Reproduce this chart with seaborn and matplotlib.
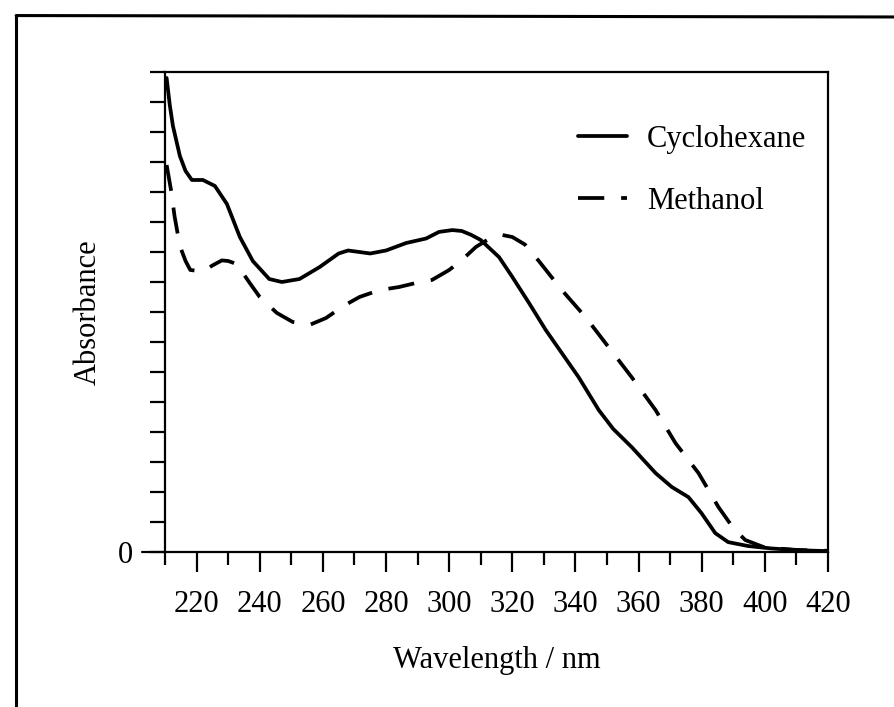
import matplotlib
matplotlib.use("Agg")
import matplotlib.pyplot as plt
from matplotlib.lines import Line2D
import seaborn as sns
import pandas as pd

# Absorption spectra in two solvents (wavelength in nm, absorbance in arbitrary units)
cyclohexane_wl = [210.5, 211.5, 212.5, 214.7, 216.5, 218.5, 222, 225.8, 229.6, 233.7,
                  237.8, 243, 247, 252.6, 259, 265, 268, 275, 280, 286.4,
                  292.7, 296.8, 301, 304, 307, 310, 315.8, 320, 325.3, 330.6,
                  335.7, 341, 347.4, 352, 357.8, 365.4, 370.5, 375.8, 379.9, 384.3,
                  388.4, 394.7, 402, 410.5, 420]
cyclohexane_abs = [15.8, 14.9, 14.2, 13.2, 12.7, 12.4, 12.4, 12.2, 11.6, 10.5,
                   9.7, 9.1, 9.0, 9.1, 9.5, 9.95, 10.05, 9.95, 10.05, 10.3,
                   10.45, 10.67, 10.73, 10.7, 10.57, 10.4, 9.83, 9.17, 8.3, 7.4,
                   6.63, 5.83, 4.73, 4.1, 3.5, 2.63, 2.17, 1.83, 1.3, 0.63,
                   0.33, 0.2, 0.12, 0.06, 0.03]

methanol_wl = [210.5, 212, 213, 214.7, 216.5, 218, 222, 225, 228, 230,
               232.7, 236.8, 240, 245.4, 250.4, 255.8, 261, 266.5, 271.6, 277.9,
               284, 289.6, 294.6, 300, 304, 308.5, 313.6, 316.7, 320, 324,
               328.4, 335.7, 343.2, 350.5, 357.8, 365.4, 371.7, 379, 385.3, 390,
               393.8, 400, 410, 420]
methanol_abs = [12.9, 12.0, 11.2, 10.2, 9.7, 9.4, 9.35, 9.55, 9.72, 9.7,
                9.6, 8.97, 8.5, 7.97, 7.67, 7.57, 7.8, 8.2, 8.5, 8.73,
                8.83, 8.97, 9.07, 9.4, 9.73, 10.17, 10.5, 10.57, 10.5, 10.25,
                9.7, 8.73, 7.83, 6.83, 5.83, 4.73, 3.63, 2.63, 1.5, 0.8,
                0.4, 0.15, 0.07, 0.04]

x_major = [220, 240, 260, 280, 300, 320, 340, 360, 380, 400, 420]
x_minor = [210, 230, 250, 270, 290, 310, 330, 350, 370, 390, 410]

sns.set_theme(style="ticks")
plt.rcParams["font.family"] = ["Liberation Serif", "DejaVu Serif"]
plt.rcParams["font.size"] = 22
plt.rcParams["text.color"] = "black"
plt.rcParams["axes.labelcolor"] = "black"

fig = plt.figure(figsize=(8.95, 7.07), dpi=100)
ax = fig.add_axes([0.1844, 0.2192, 0.7407, 0.679])

df_c = pd.DataFrame({"wl": cyclohexane_wl, "A": cyclohexane_abs})
df_m = pd.DataFrame({"wl": methanol_wl, "A": methanol_abs})

sns.lineplot(data=df_c, x="wl", y="A", ax=ax, color="black", lw=2.7,
             label="Cyclohexane", estimator=None, sort=True)
sns.lineplot(data=df_m, x="wl", y="A", ax=ax, color="black", lw=2.7,
             label="Methanol", estimator=None, sort=True)
ax.lines[1].set_dashes([7, 4.5])

ax.set_xlim(210, 420)
ax.set_ylim(0, 16)

ax.set_xticks(x_major)
ax.set_xticks(x_minor, minor=True)
ax.set_xticklabels([str(v) for v in x_major])
ax.set_yticks(range(0, 17))
ax.set_yticklabels(["0"] + [""] * 16)

ax.tick_params(axis="x", which="major", direction="out", length=14.5, width=1.6,
               pad=13, labelsize=22, colors="black")
ax.tick_params(axis="x", which="minor", direction="out", length=9.5, width=1.6,
               colors="black")
ax.tick_params(axis="y", which="major", direction="out", length=11, width=1.6,
               pad=12, labelsize=22, colors="black")

for s in ax.spines.values():
    s.set_linewidth(1.6)
    s.set_color("black")

# baseline stretched a little past the left spine
ax.plot([-0.035, 0], [0, 0], transform=ax.transAxes, color="black", lw=1.6,
        clip_on=False)

ax.set_xlabel("Wavelength / nm", fontsize=22, labelpad=19, color="black")
ax.set_ylabel("Absorbance", fontsize=22, labelpad=11, color="black")

leg = ax.legend(loc="upper left", bbox_to_anchor=(0.605, 0.916), frameon=False,
                fontsize=22, handlelength=1.6, handletextpad=0.65,
                labelspacing=1.08, borderaxespad=0)
for t in leg.get_texts():
    t.set_color("black")
for h in leg.get_lines():
    h.set_linewidth(2.7)
leg.get_lines()[1].set_dashes([7, 4.5])

# page frame
fig.add_artist(Line2D([0.018, 0.018], [0.0, 0.978], transform=fig.transFigure,
                      color="black", lw=2.2))
fig.add_artist(Line2D([0.018, 1.0], [0.978, 0.976], transform=fig.transFigure,
                      color="black", lw=2.2))

fig.savefig("out.png", dpi=100, facecolor="white")
